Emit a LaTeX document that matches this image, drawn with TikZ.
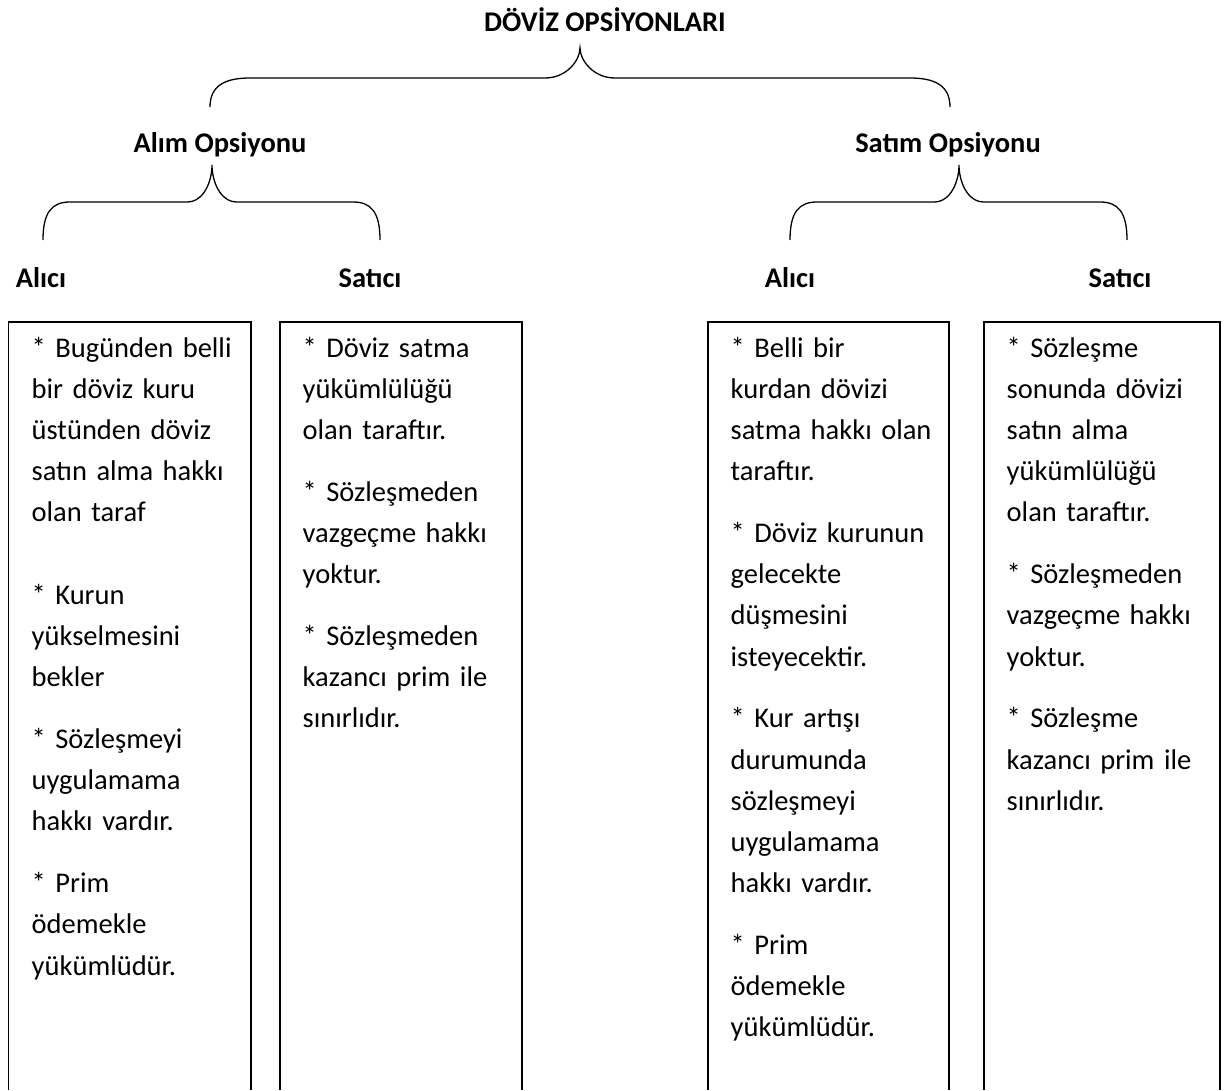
\documentclass[tikz,border=0pt]{standalone}
\usepackage{fontspec}
\setmainfont{Carlito}
\usetikzlibrary{calc}

\tikzset{
    head/.style={font=\fontsize{28.5}{41.2}\selectfont\bfseries, anchor=base, inner sep=0pt},
    boxtext/.style={anchor=north west, inner sep=0pt, text width=240pt, align=left},
    frame/.style={line width=1.4pt},
    brace/.style={line width=1.3pt}
}

\begin{document}
\begin{tikzpicture}[x=1pt, y=-1pt, font=\fontsize{28.5}{41.2}\selectfont]
        \useasboundingbox (0,0) rectangle (1229,1090);

        % headings
        \node[head] (title) at (605,31) {DÖVİZ OPSİYONLARI};
        \node[head] (alim) at (220,152) {Alım Opsiyonu};
        \node[head] (satim) at (948,152) {Satım Opsiyonu};
        \node[head] (alimAlici) at (41,287) {Alıcı};
        \node[head] (alimSatici) at (370,287) {Satıcı};
        \node[head] (satimAlici) at (790,287) {Alıcı};
        \node[head] (satimSatici) at (1120,287) {Satıcı};

        % brace ends
        \coordinate (tipTitle) at (580,48);
        \coordinate (endAlim) at (210,107);
        \coordinate (endSatim) at (950,107);
        \coordinate (tipAlim) at (212,165);
        \coordinate (endAlimAlici) at (43,240);
        \coordinate (endAlimSatici) at (380,240);
        \coordinate (tipSatim) at (959,165);
        \coordinate (endSatimAlici) at (790,240);
        \coordinate (endSatimSatici) at (1127,240);

        \draw[brace] (endAlim) .. controls +(0,-22) and +(-24,0) .. ($(endAlim)+(40,-29)$)
            -- ($(tipTitle)+(-35,30)$) .. controls +(22,0) and +(0,12) .. (tipTitle)
            .. controls +(0,12) and +(-22,0) .. ($(tipTitle)+(35,30)$)
            -- ($(endSatim)+(-40,-29)$) .. controls +(24,0) and +(0,-22) .. (endSatim);
        \draw[brace] (endAlimAlici) .. controls +(0,-28) and +(-18,0) .. ($(endAlimAlici)+(27,-38)$)
            -- ($(tipAlim)+(-25,37)$) .. controls +(17,0) and +(0,16) .. (tipAlim)
            .. controls +(0,16) and +(-17,0) .. ($(tipAlim)+(25,37)$)
            -- ($(endAlimSatici)+(-27,-38)$) .. controls +(18,0) and +(0,-28) .. (endAlimSatici);
        \draw[brace] (endSatimAlici) .. controls +(0,-28) and +(-18,0) .. ($(endSatimAlici)+(27,-38)$)
            -- ($(tipSatim)+(-25,37)$) .. controls +(17,0) and +(0,16) .. (tipSatim)
            .. controls +(0,16) and +(-17,0) .. ($(tipSatim)+(25,37)$)
            -- ($(endSatimSatici)+(-27,-38)$) .. controls +(18,0) and +(0,-28) .. (endSatimSatici);

        % boxes, open at the bottom
        \draw[frame] (8.5,1090) |- (251,322) -- (251,1090);
        \draw[frame] (280,1090) |- (522,322) -- (522,1090);
        \draw[frame] (708,1090) |- (949,322) -- (949,1090);
        \draw[frame] (984,1090) |- (1220,322) -- (1220,1090);

        \node[boxtext] (txtAlimAlici) at (31.5,328) {\strut* Bugünden belli\\ bir döviz kuru\\ üstünden döviz\\ satın alma hakkı\\ olan taraf\\[41.2pt]
            * Kurun\\ yükselmesini\\ bekler\\[20.6pt]
            * Sözleşmeyi\\ uygulamama\\ hakkı vardır.\\[20.6pt]
            * Prim\\ ödemekle\\ yükümlüdür.};
        \node[boxtext] (txtAlimSatici) at (302.5,328) {\strut* Döviz satma\\ yükümlülüğü\\ olan taraftır.\\[20.6pt]
            * Sözleşmeden\\ vazgeçme hakkı\\ yoktur.\\[20.6pt]
            * Sözleşmeden\\ kazancı prim ile\\ sınırlıdır.};
        \node[boxtext] (txtSatimAlici) at (730.5,328) {\strut* Belli bir\\ kurdan dövizi\\ satma hakkı olan\\ taraftır.\\[20.6pt]
            * Döviz kurunun\\ gelecekte\\ düşmesini\\ isteyecektir.\\[20.6pt]
            * Kur artışı\\ durumunda\\ sözleşmeyi\\ uygulamama\\ hakkı vardır.\\[20.6pt]
            * Prim\\ ödemekle\\ yükümlüdür.};
        \node[boxtext] (txtSatimSatici) at (1006.5,328) {\strut* Sözleşme\\ sonunda dövizi\\ satın alma\\ yükümlülüğü\\ olan taraftır.\\[20.6pt]
            * Sözleşmeden\\ vazgeçme hakkı\\ yoktur.\\[20.6pt]
            * Sözleşme\\ kazancı prim ile\\ sınırlıdır.};
    \end{tikzpicture}
\end{document}
